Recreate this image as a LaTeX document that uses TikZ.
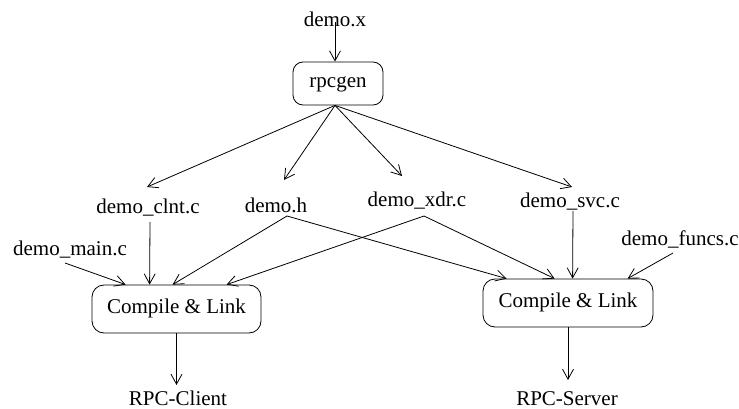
\documentclass[tikz,border=0pt]{standalone}
\usepackage{fontspec}
\setmainfont{Liberation Serif}
\usetikzlibrary{arrows.meta}

\begin{document}
\begin{tikzpicture}[x=1pt,y=-1pt,
  every node/.style={font=\fontsize{21}{25}\selectfont},
  lbl/.style={anchor=base,inner sep=0pt},
  tool/.style={draw,line width=0.8pt,rounded corners=12pt,inner sep=0pt,
    text height=14pt,text depth=5pt},
  flow/.style={line width=0.8pt,-{Straight Barb[length=10pt,width=11pt,line width=0.8pt]}}]
\useasboundingbox (0,0) rectangle (739,409);

% input and generator
\node[lbl] (x) at (335,27) {demo.x};
\node[tool,rounded corners=10pt,minimum width=90pt,minimum height=43pt] (gen) at (338,83.5) {rpcgen};

% generated and hand-written sources
\node[lbl] (clnt) at (148,213) {demo\_clnt.c};
\node[lbl] (h) at (276,212) {demo.h};
\node[lbl] (xdr) at (417,206) {demo\_xdr.c};
\node[lbl] (svc) at (570,207) {demo\_svc.c};
\node[lbl] (main) at (70,255) {demo\_main.c};
\node[lbl] (funcs) at (680,245) {demo\_funcs.c};

% build steps
\node[tool,minimum width=169pt,minimum height=48pt] (lbox) at (176.5,309) {Compile \& Link};
\node[tool,minimum width=170pt,minimum height=48pt] (rbox) at (568,303) {Compile \& Link};

% results
\node[lbl] (client) at (178,405) {RPC-Client};
\node[lbl] (server) at (567,405) {RPC-Server};

% rpcgen stage
\draw[flow] ([yshift=5]x.base) -- ([xshift=-3]gen.south |- gen.north);
\draw[flow] ([xshift=-3]gen.south) -- ([shift={(-1,-26)}]clnt.base);
\draw[flow] ([xshift=-3]gen.south) -- ([shift={(8,-32)}]h.base);
\draw[flow] ([xshift=-3]gen.south) -- ([shift={(-15,-30)}]xdr.base);
\draw[flow] ([xshift=-3]gen.south) -- ([shift={(2,-20)}]svc.base);

% client build
\draw[flow] ([shift={(2,9)}]clnt.base) -- ([xshift=58]lbox.north west);
\draw[flow] ([shift={(-5,8)}]main.base) -- ([xshift=34]lbox.north west);
\draw[flow] ([shift={(11,4)}]h.base) -- ([xshift=81]lbox.north west);
\draw[flow] ([shift={(7,10)}]xdr.base) -- ([xshift=135]lbox.north west);

% server build
\draw[flow] ([shift={(11,4)}]h.base) -- ([xshift=24]rbox.north west);
\draw[flow] ([shift={(7,10)}]xdr.base) -- ([xshift=72]rbox.north west);
\draw[flow] ([shift={(3,4)}]svc.base) -- ([xshift=90]rbox.north west);
\draw[flow] ([shift={(-7,8)}]funcs.base) -- ([xshift=145]rbox.north west);

% outputs
\draw[flow] (lbox.south) -- ([shift={(-1.5,-20)}]client.base);
\draw[flow] (rbox.south) -- ([shift={(1,-25)}]server.base);
\end{tikzpicture}
\end{document}
